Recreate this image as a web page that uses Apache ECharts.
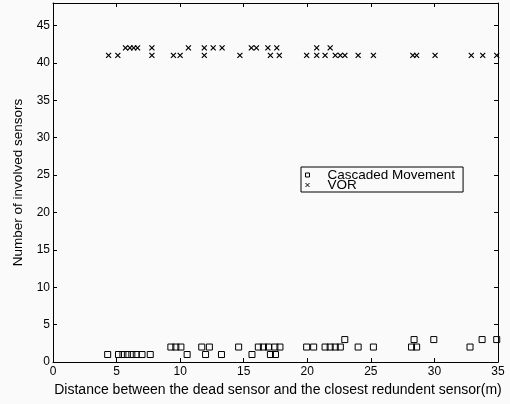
<!DOCTYPE html>
<html><head><meta charset="utf-8">
<script src="https://cdn.jsdelivr.net/npm/echarts@6/dist/echarts.min.js"></script>
<style>html,body{margin:0;padding:0;background:#fafafa}#c{width:510px;height:404px}</style>
</head><body><div id="c"></div>
<script>
var xTicks = [0,5,10,15,20,25,30,35];
var yTicks = [0,5,10,15,20,25,30,35,40,45];
var cmX = [4.3,5.15,5.5,5.85,6.2,6.55,7.0,7.65,
  9.27,9.66,10.06,10.55,11.7,12.0,12.3,13.25,14.6,15.65,16.15,16.55,16.95,17.1,17.5,17.45,17.85,
  19.95,20.5,21.4,21.8,22.2,22.6,22.95,24.0,25.2,28.2,28.4,28.6,29.95,32.8,33.75,34.9];
var cmY = [1,1,1,1,1,1,1,1,
  2,2,2,1,2,1,2,1,2,1,2,2,2,1,1,2,2,
  2,2,2,2,2,2,3,2,2,2,3,2,3,2,3,3];
var vorX = [4.37,5.1,5.7,6.05,6.35,6.65,7.78,7.78,9.47,10.0,10.65,11.9,11.9,12.6,13.3,14.7,15.6,16.0,16.9,17.1,17.6,17.8,
  19.95,20.74,20.74,21.4,21.8,22.2,22.6,22.96,24.0,25.2,28.3,28.6,30.05,32.9,33.8,34.9];
var vorY = [41,41,42,42,42,42,42,41,41,41,42,42,41,42,42,41,42,42,42,41,42,41,
  41,42,41,41,42,41,41,41,41,41,41,41,41,41,41,41];
var seriesNames = ['Cascaded Movement','VOR'];
var xName = 'Distance between the dead sensor and the closest redundent sensor(m)';
var yName = 'Number of involved sensors';

function pairs(xs, ys){ return xs.map(function(x,i){ return [x, ys[i]]; }); }
var FONT = 'Liberation Sans, Arial, Helvetica, sans-serif';
var XPATH = 'path://M0,0L10,10M10,0L0,10';
var SQPATH = 'path://M0,0L10,0L10,10L0,10Z';

var chart = echarts.init(document.getElementById('c'), null, {renderer:'canvas'});
var axisCommon = {
  axisLine:{show:true, onZero:false, lineStyle:{color:'#000', width:1}},
  axisTick:{show:true, inside:true, length:4, lineStyle:{color:'#000'}},
  splitLine:{show:false}
};
chart.setOption({
  backgroundColor:'#fafafa',
  animation:false,
  textStyle:{fontFamily:FONT},
  grid:{left:53, right:12, top:3, bottom:42, containLabel:false},
  xAxis:[
    Object.assign({type:'value', min:xTicks[0], max:xTicks[xTicks.length-1], interval:5, position:'bottom',
      name:xName, nameLocation:'middle', nameGap:12,
      nameTextStyle:{fontSize:14, color:'#000', fontFamily:FONT, padding:[0,0,0,5]},
      axisLabel:{fontSize:12, color:'#000', margin:4, fontFamily:FONT}}, axisCommon),
    Object.assign({type:'value', min:xTicks[0], max:xTicks[xTicks.length-1], interval:5, position:'top',
      axisLabel:{show:false}}, axisCommon)
  ],
  yAxis:[
    Object.assign({type:'value', min:0, max:48, interval:5, position:'left',
      name:yName, nameLocation:'middle', nameGap:26,
      nameTextStyle:{fontSize:13.5, color:'#000', fontFamily:FONT},
      axisLabel:{fontSize:12, color:'#000', margin:3, showMaxLabel:false, fontFamily:FONT}}, axisCommon),
    Object.assign({type:'value', min:0, max:48, interval:5, position:'right',
      axisLabel:{show:false}}, axisCommon)
  ],
  legend:{
    orient:'vertical', left:301, top:167,
    padding:[1,8,0,2], itemGap:-4, itemWidth:30, itemHeight:4,
    backgroundColor:'#fafafa', borderColor:'#000', borderWidth:1,
    textStyle:{fontSize:13.5, color:'#000', fontFamily:FONT},
    data:[
      {name:seriesNames[0], icon:SQPATH, itemStyle:{color:'none', borderColor:'#000', borderWidth:1}},
      {name:seriesNames[1], icon:XPATH, itemStyle:{color:'none', borderColor:'#000', borderWidth:1}}
    ]
  },
  series:[
    {name:seriesNames[0], type:'scatter', data:pairs(cmX, cmY), symbol:SQPATH, symbolSize:6,
     itemStyle:{color:'none', borderColor:'#000', borderWidth:1, opacity:1}},
    {name:seriesNames[1], type:'scatter', data:pairs(vorX, vorY), symbol:XPATH, symbolSize:5,
     itemStyle:{color:'none', borderColor:'#000', borderWidth:1.2, opacity:1}}
  ]
});
</script></body></html>
